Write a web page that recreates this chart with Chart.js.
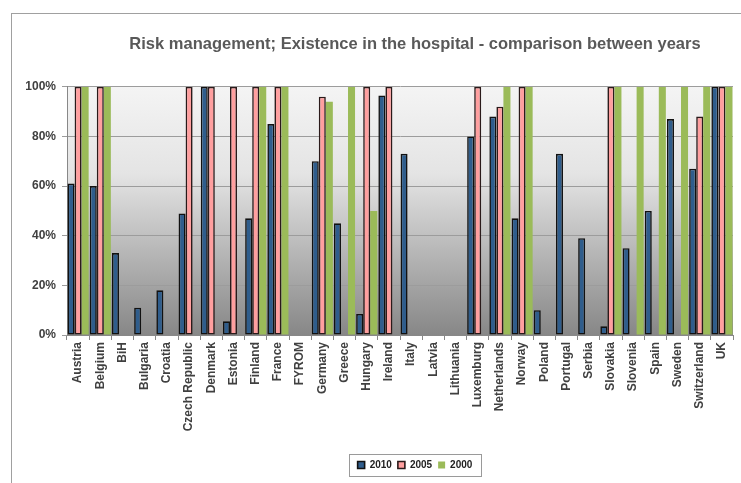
<!DOCTYPE html>
<html>
<head>
<meta charset="utf-8">
<script src="https://cdn.jsdelivr.net/npm/chart.js@4/dist/chart.umd.min.js"></script>
<style>
  html, body { margin: 0; padding: 0; background: #fff; overflow: hidden; width: 741px; height: 483px; }
  #frame { position: absolute; left: 11px; top: 13px; width: 806px; height: 475px; border: 1px solid #a0a0a0; }
</style>
</head>
<body>
<div id="frame"><canvas id="chart" width="806" height="475"></canvas></div>
<script>
// Dữ liệu (%)
const countries = ['Austria', 'Belgium', 'BiH', 'Bulgaria', 'Croatia', 'Czech Republic', 'Denmark', 'Estonia',
  'Finland', 'France', 'FYROM', 'Germany', 'Greece', 'Hungary', 'Ireland', 'Italy', 'Latvia', 'Lithuania',
  'Luxemburg', 'Netherlands', 'Norway', 'Poland', 'Portugal', 'Serbia', 'Slovakia', 'Slovenia', 'Spain',
  'Sweden', 'Switzerland', 'UK'];
const values2010 = [61, 60, 33, 11, 18, 49, 100, 5.5, 47, 85, null, 70, 45, 8.5, 96.5, 73, null, null,
  80, 88, 47, 10, 73, 39, 3.5, 35, 50, 87, 67, 100];
const values2005 = [100, 100, null, null, null, 100, 100, 100, 100, 100, null, 96, null, 100, 100, null, null, null,
  100, 92, 100, null, null, null, 100, null, null, null, 88, 100];
const values2000 = [100, 100, null, null, null, null, null, null, 100, 100, null, 94, 100, 50, null, null, null, null,
  null, 100, 100, null, null, null, 100, 100, 100, 100, 100, 100];
const yTicks = [0, 20, 40, 60, 80, 100];

const tickFont = { family: 'Liberation Sans, Arial', size: 12, weight: 'bold' };

// Nền gradient cho vùng vẽ + khung legend
const plotBg = {
  id: 'plotBg',
  beforeDraw(chart) {
    const { ctx, chartArea: a } = chart;
    const g = ctx.createLinearGradient(0, a.top, 0, a.bottom);
    g.addColorStop(0, '#f4f4f4');
    g.addColorStop(0.35, '#e4e4e4');
    g.addColorStop(1, '#878787');
    ctx.save();
    ctx.fillStyle = g;
    ctx.fillRect(a.left, a.top, a.right - a.left, a.bottom - a.top);
    ctx.restore();
  },
  afterDraw(chart) {
    const boxes = chart.legend.legendHitBoxes;
    if (!boxes || !boxes.length) return;
    const x0 = Math.min(...boxes.map(b => b.left)) - 9;
    const x1 = Math.max(...boxes.map(b => b.left + b.width)) + 8;
    const y0 = boxes[0].top - 6;
    const h = boxes[0].height + 12;
    const ctx = chart.ctx;
    ctx.save();
    ctx.strokeStyle = '#9a9a9a';
    ctx.lineWidth = 1;
    ctx.strokeRect(Math.round(x0) + 0.5, Math.round(y0) + 0.5, Math.round(x1 - x0), Math.round(h));
    ctx.restore();
  }
};

new Chart(document.getElementById('chart'), {
  type: 'bar',
  data: {
    labels: countries,
    datasets: [
      { label: '2010', data: values2010, backgroundColor: '#2f5d8c', borderColor: '#111', borderWidth: 1.6, borderSkipped: false },
      { label: '2005', data: values2005, backgroundColor: '#ff9f9f', borderColor: '#2a1a1a', borderWidth: 1.6, borderSkipped: false },
      { label: '2000', data: values2000, backgroundColor: '#9bbb59', borderWidth: 0 }
    ]
  },
  options: {
    responsive: false,
    animation: false,
    categoryPercentage: 0.95,
    barPercentage: 1,
    layout: { padding: { left: 0, right: 0, top: 0, bottom: 9 } },
    plugins: {
      title: {
        display: true,
        text: 'Risk management; Existence in the hospital - comparison between years',
        color: '#595959',
        font: { family: 'Liberation Sans, Arial', size: 16.5, weight: 'bold' },
        padding: { top: 21, bottom: 32 }
      },
      legend: {
        position: 'bottom',
        labels: {
          color: '#222',
          font: { family: 'Liberation Sans, Arial', size: 10, weight: 'bold' },
          boxWidth: 7,
          boxHeight: 7,
          padding: 6
        }
      },
      tooltip: { enabled: false }
    },
    scales: {
      x: {
        grid: { display: true, drawOnChartArea: false, color: '#888', tickLength: 5 },
        border: { color: '#888' },
        ticks: { color: '#404040', font: tickFont, autoSkip: false, maxRotation: 90, minRotation: 90, padding: 2 },
        afterFit(s) { s.height = 119; }
      },
      y: {
        min: 0,
        max: 100,
        afterBuildTicks(s) { s.ticks = yTicks.map(v => ({ value: v })); },
        grid: { color: '#9c9c9c', tickLength: 5 },
        border: { color: '#888' },
        ticks: { color: '#404040', font: tickFont, padding: 6, callback: v => v + '%' },
        afterFit(s) { s.width = 55; }
      },
      yRight: {
        position: 'right',
        display: true,
        grid: { display: false },
        border: { display: false },
        ticks: { display: false },
        afterFit(s) { s.width = 85; }
      }
    }
  },
  plugins: [plotBg]
});
</script>
</body>
</html>
